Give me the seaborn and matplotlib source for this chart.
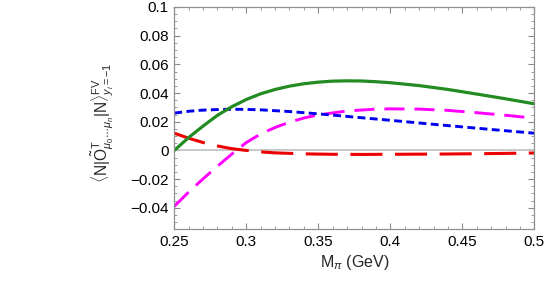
import numpy as np
import pandas as pd
import seaborn as sns
import matplotlib
matplotlib.use("Agg")
from matplotlib import pyplot as plt
from matplotlib.ticker import FixedLocator, MultipleLocator

# values
green_x = [0.25, 0.26, 0.27, 0.28, 0.29, 0.30, 0.31, 0.32, 0.33, 0.34, 0.35, 0.36, 0.37,
           0.38, 0.39, 0.40, 0.42, 0.44, 0.46, 0.48, 0.50]
green_y = [0.0, 0.009, 0.017, 0.0245, 0.0305, 0.0355, 0.0395, 0.0425, 0.0448, 0.0465, 0.0476,
           0.0483, 0.0485, 0.0484, 0.0479, 0.0472, 0.0452, 0.0425, 0.0393, 0.0360, 0.0325]

blue_x = [0.25, 0.26, 0.27, 0.28, 0.29, 0.30, 0.31, 0.33, 0.35, 0.37, 0.40, 0.43, 0.45, 0.47, 0.50]
blue_y = [0.026, 0.0273, 0.0281, 0.0285, 0.0287, 0.0286, 0.0283, 0.0271, 0.0255, 0.0237,
          0.0210, 0.0182, 0.0164, 0.0146, 0.0120]

magenta_x = [0.25, 0.26, 0.27, 0.28, 0.29, 0.30, 0.31, 0.32, 0.33, 0.34, 0.35, 0.37, 0.39,
             0.40, 0.42, 0.44, 0.46, 0.48, 0.50]
magenta_y = [-0.0390, -0.0290, -0.0198, -0.0110, -0.0025, 0.0055, 0.0115, 0.0160, 0.0197,
             0.0226, 0.0248, 0.0275, 0.0288, 0.0290, 0.0288, 0.0279, 0.0263, 0.0245, 0.0225]

red_x = [0.25, 0.26, 0.27, 0.28, 0.29, 0.30, 0.31, 0.32, 0.34, 0.36, 0.38, 0.40, 0.44, 0.47, 0.50]
red_y = [0.0120, 0.0085, 0.0055, 0.0031, 0.0012, 0.0000, -0.0010, -0.0017, -0.0024, -0.0027,
         -0.0028, -0.0027, -0.0025, -0.0022, -0.0018]

x_ticks = [0.25, 0.30, 0.35, 0.40, 0.45, 0.50]
x_labels = ["0.25", "0.3", "0.35", "0.4", "0.45", "0.5"]
y_ticks = [-0.04, -0.02, 0.0, 0.02, 0.04, 0.06, 0.08, 0.10]
y_labels = ["\u22120.04", "\u22120.02", "0", "0.02", "0.04", "0.06", "0.08", "0.1"]

sns.set_theme(style="white")
plt.rcParams["font.family"] = ["Liberation Sans", "DejaVu Sans"]
plt.rcParams["mathtext.fontset"] = "custom"
plt.rcParams["mathtext.rm"] = "Liberation Sans"
plt.rcParams["mathtext.it"] = "Liberation Sans:italic"
plt.rcParams["mathtext.bf"] = "Liberation Sans:bold"

fig = plt.figure(figsize=(5.45, 2.91), dpi=100)
ax = fig.add_axes([0.3198, 0.212, 0.6606, 0.764])

ax.axhline(0, color="#c4c4c4", lw=1.3, zorder=1)

lw = 2.1
sns.lineplot(x=red_x, y=red_y, ax=ax, color="#ee0000", lw=lw + 0.1, sort=False,
             linestyle=(0, (10.5, 4.1)))
sns.lineplot(x=magenta_x, y=magenta_y, ax=ax, color="#ff00ff", lw=lw, sort=False,
             linestyle=(0, (6.9, 3.4)))
sns.lineplot(x=blue_x, y=blue_y, ax=ax, color="#0000ee", lw=lw, sort=False,
             linestyle=(0, (2.7, 1.5)))
sns.lineplot(x=green_x, y=green_y, ax=ax, color="#228b22", lw=lw + 0.2, sort=False)

ax.set_xlim(0.25, 0.5)
ax.set_ylim(-0.055, 0.1)
ax.xaxis.set_major_locator(FixedLocator(x_ticks))
ax.set_xticklabels(x_labels)
ax.yaxis.set_major_locator(FixedLocator(y_ticks))
ax.set_yticklabels(y_labels)
ax.xaxis.set_minor_locator(MultipleLocator(0.01))
ax.yaxis.set_minor_locator(MultipleLocator(0.005))
ax.tick_params(which="both", direction="in", bottom=True, left=True, top=True, right=True,
               color="#8a8a8a", labelsize=11, labelcolor="black", pad=4)
ax.tick_params(which="major", length=4, width=0.8)
ax.tick_params(which="minor", length=2.2, width=0.6)
for s in ax.spines.values():
    s.set_color("#909090")
    s.set_linewidth(0.9)

ax.set_xlabel(r"M$_\pi$ (GeV)", fontsize=11.5, labelpad=3)
ax.set_ylabel(r"$\langle\mathrm{N}|\tilde{\mathrm{O}}^{\mathrm{T}}_{\mu_0\cdots\mu_n}|\mathrm{N}\rangle^{\mathrm{FV}}_{y_i=-1}$",
              fontsize=11.2)
ax.yaxis.set_label_coords(-0.162, 0.48)

fig.savefig("out.png", dpi=100)
